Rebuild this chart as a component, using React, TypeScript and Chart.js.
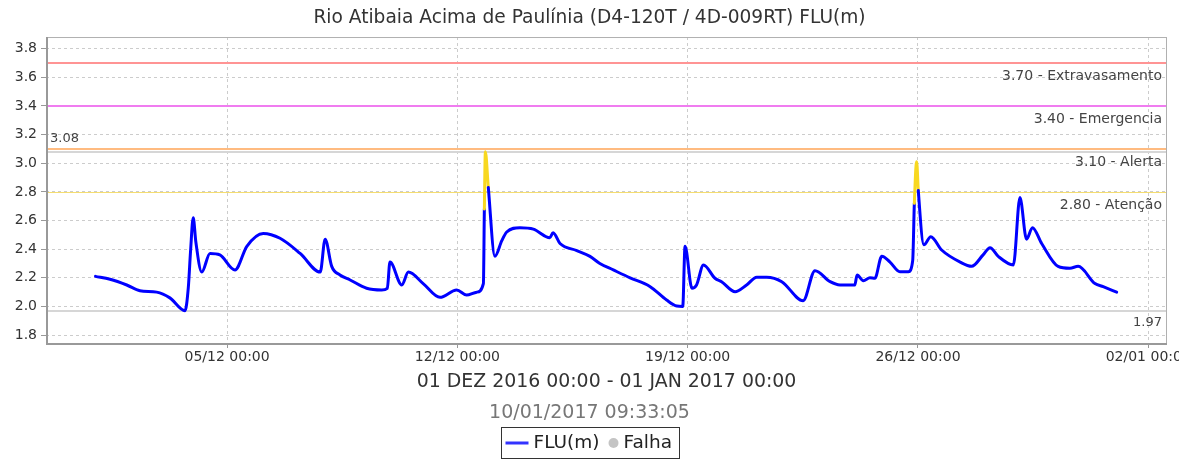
import React, { useEffect, useRef } from "react";
import { Chart, registerables } from "chart.js";

Chart.register(...registerables);

const chartTitle = "Rio Atibaia Acima de Paulínia (D4-120T / 4D-009RT) FLU(m)";
const periodLabel = "01 DEZ 2016 00:00 - 01 JAN 2017 00:00";
const generatedAt = "10/01/2017 09:33:05";
const seriesName = "FLU(m)";
const failName = "Falha";

// time in days since 01/12/2016 00:00
const dayOffsets = [
  0.0, 0.44, 0.95, 1.35, 1.86, 2.26, 2.72, 2.82, 2.89, 2.97, 3.05, 3.23, 3.48, 3.78, 4.24,
  4.6, 5.1, 5.61, 6.22, 6.83, 6.98, 7.18, 7.43, 7.74, 8.24, 8.7, 8.87, 8.95, 9.31, 9.51,
  9.96, 10.47, 10.98, 11.28, 11.59, 11.79, 11.82, 11.85, 11.94, 12.14, 12.35, 12.5, 12.9,
  13.31, 13.81, 13.91, 14.12, 14.63, 15.03, 15.33, 15.74, 16.25, 16.85, 17.36, 17.67, 17.85,
  17.92, 18.13, 18.27, 18.48, 18.83, 19.03, 19.44, 19.79, 20.1, 20.4, 20.86, 21.51, 21.87,
  22.33, 22.63, 23.08, 23.15, 23.34, 23.54, 23.69, 23.9, 24.15, 24.45, 24.71, 24.84, 24.89,
  24.96, 25.01, 25.18, 25.39, 25.72, 26.28, 26.63, 26.98, 27.19, 27.44, 27.9, 28.1, 28.3,
  28.48, 28.76, 29.26, 29.62, 29.87, 30.38, 30.63, 31.04,
];
const levels = [
  2.21, 2.19, 2.15, 2.11, 2.10, 2.06, 1.97, 2.13, 2.39, 2.62, 2.45, 2.24, 2.37, 2.36, 2.255,
  2.42, 2.51, 2.476, 2.37, 2.24, 2.47, 2.28, 2.22, 2.185, 2.127, 2.115, 2.127, 2.31, 2.15, 2.24,
  2.16, 2.064, 2.115, 2.08, 2.10, 2.16, 2.68, 3.08, 2.83, 2.35, 2.46, 2.52, 2.55,
  2.54, 2.48, 2.515, 2.44, 2.39, 2.35, 2.30, 2.255, 2.20, 2.14, 2.045, 2.003, 2.0,
  2.42, 2.127, 2.15, 2.29, 2.197, 2.173, 2.103, 2.15, 2.204, 2.204, 2.173, 2.04, 2.25,
  2.173, 2.15, 2.15, 2.22, 2.18, 2.20, 2.197, 2.35, 2.31, 2.243, 2.243, 2.32, 2.72,
  3.01, 2.81, 2.43, 2.487, 2.394, 2.31, 2.28, 2.36, 2.41, 2.35, 2.29, 2.76, 2.47,
  2.55, 2.44, 2.28, 2.267, 2.28, 2.16, 2.138, 2.10,
];

const xTickDays = [4, 11, 18, 25, 32];
const xTickLabels = ["05/12 00:00", "12/12 00:00", "19/12 00:00", "26/12 00:00", "02/01 00:00"];
const yTickValues = [1.8, 2.0, 2.2, 2.4, 2.6, 2.8, 3.0, 3.2, 3.4, 3.6, 3.8];

const thresholdValues = [3.7, 3.4, 3.1, 2.8];
const thresholdNames = ["Extravasamento", "Emergencia", "Alerta", "Atenção"];
const maxValue = 3.08;
const minValue = 1.97;

const X_MIN = -1.505;
const X_MAX = 32.57;
const Y_MIN = 1.745;
const Y_MAX = 3.881;

const FONT = '"DejaVu Sans", sans-serif';
const BLUE = "#0000ff";
const YELLOW = "#f8d820";
const thresholdColors = ["#ff9494", "#f07cf0", "#ffbb80", "#f5dd70"];
const thresholdWidths = [2, 2, 2, 1];

const overlayPlugin = {
  id: "overlay",
  beforeDatasetsDraw(chart: any) {
    const { ctx, chartArea: a, scales } = chart;
    const y = scales.y;
    ctx.save();
    const hline = (v: number, color: string, w: number) => {
      const py = y.getPixelForValue(v);
      const yy = w % 2 === 1 ? Math.round(py) + 0.5 : Math.round(py);
      ctx.beginPath();
      ctx.strokeStyle = color;
      ctx.lineWidth = w;
      ctx.moveTo(a.left, yy);
      ctx.lineTo(a.right, yy);
      ctx.stroke();
    };
    hline(maxValue, "#d6d6d6", 2);
    hline(minValue, "#d6d6d6", 2);
    thresholdValues.forEach((v, i) => hline(v, thresholdColors[i], thresholdWidths[i]));

    ctx.font = `14px ${FONT}`;
    ctx.fillStyle = "#444";
    ctx.textBaseline = "middle";
    ctx.textAlign = "right";
    thresholdValues.forEach((v, i) => {
      const py = y.getPixelForValue(v);
      ctx.fillText(`${v.toFixed(2)} - ${thresholdNames[i]}`, a.right - 5, py + 13);
    });
    ctx.font = `13px ${FONT}`;
    ctx.fillText(minValue.toFixed(2), a.right - 5, y.getPixelForValue(minValue) + 12);
    ctx.textAlign = "left";
    ctx.fillText(maxValue.toFixed(2), a.left + 4, y.getPixelForValue(maxValue) - 13);
    ctx.restore();
  },
  afterDraw(chart: any) {
    const { ctx, chartArea: a, width } = chart;
    ctx.save();
    // plot frame
    ctx.strokeStyle = "#b0b0b0";
    ctx.lineWidth = 1;
    ctx.strokeRect(a.left + 0.5, a.top + 0.5, a.right - a.left - 1, a.bottom - a.top);
    ctx.beginPath();
    ctx.strokeStyle = "#999";
    ctx.lineWidth = 2;
    ctx.moveTo(a.left + 1, a.top);
    ctx.lineTo(a.left + 1, a.bottom + 1);
    ctx.lineTo(a.right, a.bottom + 1);
    ctx.stroke();

    // period label
    ctx.textBaseline = "middle";
    ctx.textAlign = "center";
    ctx.font = `18.9px ${FONT}`;
    ctx.fillStyle = "#333";
    ctx.fillText(periodLabel, (a.left + a.right) / 2, 382);
    ctx.font = `19px ${FONT}`;
    ctx.fillStyle = "#777";
    ctx.fillText(generatedAt, width / 2, 413);

    // legend
    ctx.font = `18.5px ${FONT}`;
    const t1 = ctx.measureText(seriesName).width;
    const t2 = ctx.measureText(failName).width;
    const boxW = 4 + 23 + 5 + t1 + 9 + 10 + 5 + t2 + 7;
    const bx = Math.round(width / 2 - boxW / 2) + 0.5;
    const by = 427.5;
    const cy = 443;
    ctx.strokeStyle = "#333";
    ctx.lineWidth = 1;
    ctx.strokeRect(bx, by, Math.round(boxW), 31);
    let cx = bx + 4;
    ctx.beginPath();
    ctx.strokeStyle = "#3333ff";
    ctx.lineWidth = 3;
    ctx.moveTo(cx, cy);
    ctx.lineTo(cx + 23, cy);
    ctx.stroke();
    cx += 28;
    ctx.textAlign = "left";
    ctx.fillStyle = "#222";
    ctx.fillText(seriesName, cx, cy);
    cx += t1 + 9;
    ctx.beginPath();
    ctx.fillStyle = "#c4c4c4";
    ctx.arc(cx + 5, cy, 5, 0, Math.PI * 2);
    ctx.fill();
    cx += 15;
    ctx.fillStyle = "#222";
    ctx.fillText(failName, cx, cy);
    ctx.restore();
  },
};

export default function App() {
  const ref = useRef<HTMLCanvasElement | null>(null);
  useEffect(() => {
    document.body.style.margin = "0";
    const canvas = ref.current;
    if (!canvas) return;
    const alertLevel = thresholdValues[3];
    const gridOpts = {
      color: "#cccccc",
      lineWidth: 1,
      tickLength: 5,
      tickColor: "#999",
      tickBorderDash: [],
    };
    const chart = new Chart(canvas, {
      type: "line",
      data: {
        datasets: [
          {
            label: seriesName,
            data: dayOffsets.map((d, i) => ({ x: d, y: levels[i] })),
            borderColor: BLUE,
            borderWidth: 3,
            pointRadius: 0,
            borderJoinStyle: "round",
            borderCapStyle: "round",
            cubicInterpolationMode: "monotone",
            segment: {
              borderColor: (c: any) => (c.p1.parsed.y > alertLevel ? YELLOW : BLUE),
            },
          } as any,
          {
            label: failName,
            data: [],
            borderColor: "#c4c4c4",
            backgroundColor: "#c4c4c4",
            pointRadius: 5,
            showLine: false,
          },
        ],
      },
      options: {
        animation: false,
        responsive: false,
        devicePixelRatio: 1,
        layout: { padding: 0 },
        plugins: {
          legend: { display: false },
          tooltip: { enabled: false },
          title: {
            display: true,
            text: chartTitle,
            color: "#333",
            font: { family: FONT, size: 18.6, weight: "normal" as any },
            padding: { top: 7, bottom: 7.7 },
          },
        },
        scales: {
          x: {
            type: "linear",
            min: X_MIN,
            max: X_MAX,
            afterBuildTicks: (s: any) => {
              s.ticks = xTickDays.map((v) => ({ value: v }));
            },
            afterFit: (s: any) => {
              s.height = 116;
              s.paddingLeft = 0;
              s.paddingRight = 0;
            },
            ticks: {
              autoSkip: false,
              maxRotation: 0,
              padding: 1,
              color: "#333",
              font: { family: FONT, size: 14 },
              callback: (v: any) => {
                const i = xTickDays.indexOf(Number(v));
                return i >= 0 ? xTickLabels[i] : "";
              },
            },
            grid: gridOpts,
            border: { display: false, dash: [3, 3] },
          },
          y: {
            type: "linear",
            min: Y_MIN,
            max: Y_MAX,
            afterBuildTicks: (s: any) => {
              s.ticks = yTickValues.map((v) => ({ value: v }));
            },
            afterFit: (s: any) => {
              s.width = 46;
              s.paddingTop = 0;
              s.paddingBottom = 0;
            },
            ticks: {
              autoSkip: false,
              padding: 4,
              color: "#333",
              font: { family: FONT, size: 14 },
              callback: (v: any) => Number(v).toFixed(1),
            },
            grid: gridOpts,
            border: { display: false, dash: [3, 3] },
          },
          yRightSpace: {
            type: "linear",
            position: "right",
            display: true,
            min: Y_MIN,
            max: Y_MAX,
            grid: { display: false, drawTicks: false },
            ticks: { display: false },
            border: { display: false },
            afterFit: (s: any) => {
              s.width = 12;
              s.paddingTop = 0;
              s.paddingBottom = 0;
            },
          },
        },
      },
      plugins: [overlayPlugin],
    });
    return () => chart.destroy();
  }, []);
  return (
    <canvas
      ref={ref}
      width={1179}
      height={459}
      style={{ display: "block", width: 1179, height: 459 }}
    />
  );
}
